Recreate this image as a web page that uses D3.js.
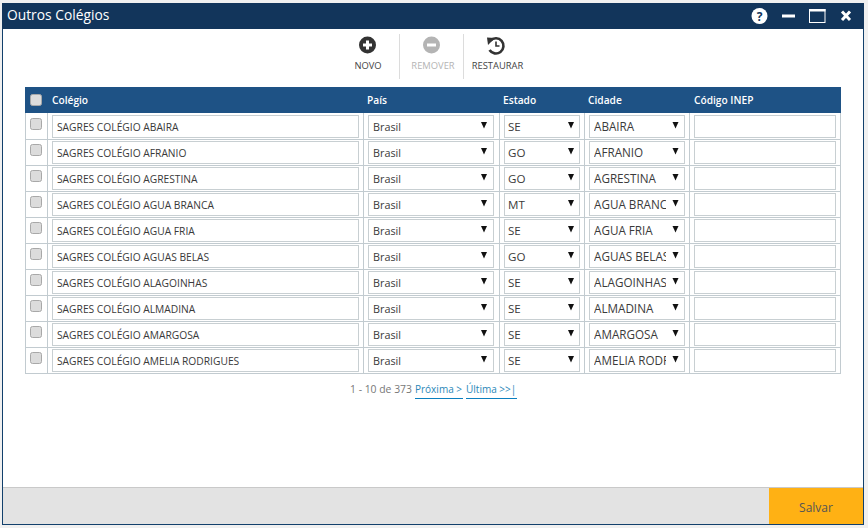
<!DOCTYPE html>
<html><head><meta charset="utf-8">
<script src="https://cdn.jsdelivr.net/npm/d3@7"></script>
<style>html,body{margin:0;padding:0;background:#f0f0f0;overflow:hidden}svg{display:block}text{font-family:"Open Sans",sans-serif}</style>
</head><body><svg id="c" width="868" height="528"></svg>
<script>
const title = "Outros Colégios";
const headers = ["Colégio","País","Estado","Cidade","Código INEP"];
const colleges = ["SAGRES COLÉGIO ABAIRA","SAGRES COLÉGIO AFRANIO","SAGRES COLÉGIO AGRESTINA","SAGRES COLÉGIO AGUA BRANCA","SAGRES COLÉGIO AGUA FRIA","SAGRES COLÉGIO AGUAS BELAS","SAGRES COLÉGIO ALAGOINHAS","SAGRES COLÉGIO ALMADINA","SAGRES COLÉGIO AMARGOSA","SAGRES COLÉGIO AMELIA RODRIGUES"];
const countries = ["Brasil","Brasil","Brasil","Brasil","Brasil","Brasil","Brasil","Brasil","Brasil","Brasil"];
const states = ["SE","GO","GO","MT","SE","GO","SE","SE","SE","SE"];
const cities = ["ABAIRA","AFRANIO","AGRESTINA","AGUA BRANCA","AGUA FRIA","AGUAS BELAS","ALAGOINHAS","ALMADINA","AMARGOSA","AMELIA RODRIGUES"];
const tools = ["NOVO","REMOVER","RESTAURAR"];
const pager = "1 - 10 de 373";
const links = ["Próxima >","Última >>|"];
const save = "Salvar";

const svg = d3.select("#c");
const rect=(x,y,w,h,f,s)=>svg.append("rect").attr("x",x).attr("y",y).attr("width",w).attr("height",h).attr("fill",f).attr("stroke",s||"none");
const text=(x,y,t,size,fill,anchor)=>svg.append("text").attr("x",x).attr("y",y).attr("font-size",size).attr("fill",fill).attr("text-anchor",anchor||"start").text(t);

// window
rect(0,0,868,528,"#f0f0f0");
rect(2,3,862,522,"#ffffff");
svg.append("rect").attr("x",2.5).attr("y",3.5).attr("width",861).attr("height",521).attr("fill","none").attr("stroke","#12406c");
rect(2,3,862,26,"#12355b");
text(7,20,title,13.8,"#fff");

// window controls
svg.append("circle").attr("cx",759.5).attr("cy",16).attr("r",8).attr("fill","#fff");
text(759.5,20.5,"?",12,"#12355b","middle").attr("font-weight",700);
rect(782,14.5,13,3,"#fff");
svg.append("rect").attr("x",809.5).attr("y",9.5).attr("width",15.5).attr("height",13).attr("fill","none").attr("stroke","#fff");
rect(809,9,16.5,2.5,"#fff");
svg.append("path").attr("d","M842 11.5L850 20M850 11.5L842 20").attr("stroke","#fff").attr("stroke-width",3).attr("fill","none");

// toolbar
const toolX = d3.scaleOrdinal().domain(tools).range([368,433,497.5]);
[399.5,463.5].forEach(x=>svg.append("line").attr("x1",x).attr("x2",x).attr("y1",34).attr("y2",79).attr("stroke","#dcdcdc"));
tools.forEach((t,i)=>text(toolX(t),69,t,9.4,i===1?"#b4b4b4":"#444","middle"));
svg.append("circle").attr("cx",367.5).attr("cy",45).attr("r",8.5).attr("fill","#333");
svg.append("path").attr("d","M367.5 40.5V49.5M363 45H372").attr("stroke","#fff").attr("stroke-width",3);
svg.append("circle").attr("cx",431.5).attr("cy",45).attr("r",8.5).attr("fill","#b4b4b4");
svg.append("path").attr("d","M427 45H436").attr("stroke","#fff").attr("stroke-width",3);
svg.append("path").attr("d","M490.5 40.5A7.6 7.6 0 1 1 489.5 50").attr("fill","none").attr("stroke","#333").attr("stroke-width",2.6);
svg.append("path").attr("d","M487 37.5L495 38L488 45Z").attr("fill","#333");
svg.append("path").attr("d","M496 41.5V46H499.5").attr("fill","none").attr("stroke","#333").attr("stroke-width",1.6);

// table
const y = d3.scaleBand().domain(colleges).range([113,373]);
const colEdges = [25.5,47.5,363.5,499.5,584.5,689.5,840.5];
const line = "#c2cbd0", inputLine = "#c8cfd2";
rect(25,87,816,26,"#1e5285");
const headX=[52,367,503,588,694];
headers.forEach((h,i)=>text(headX[i],104,h,10.2,"#fff").attr("font-weight",600));
function checkbox(cy){
  svg.append("rect").attr("x",30.5).attr("y",cy-5.5).attr("width",11).attr("height",11).attr("rx",2).attr("fill","#dcdcdc").attr("stroke","#a8a8a8");
}
checkbox(100);
colEdges.forEach(x=>svg.append("line").attr("x1",x).attr("x2",x).attr("y1",113).attr("y2",373.5).attr("stroke",line));
const defs = svg.append("defs");
defs.append("clipPath").attr("id","cityclip").append("rect").attr("x",594).attr("y",100).attr("width",72).attr("height",280);
colleges.forEach((c,i)=>{
  const top=y(c), b=top+y.bandwidth();
  svg.append("line").attr("x1",25).attr("x2",841).attr("y1",b+.5).attr("y2",b+.5).attr("stroke",line);
  checkbox(top+11);
  const tb=top+18;
  [[52.5,306],[368.5,125],[504.5,75],[589.5,95],[694.5,141]].forEach(([x,w])=>
    svg.append("rect").attr("x",x).attr("y",top+2.5).attr("width",w).attr("height",22).attr("fill","#fff").attr("stroke",inputLine));
  text(57,tb,c,10.25,"#3a3a3a");
  text(373,tb,countries[i],10.8,"#3a3a3a");
  text(508,tb,states[i],11.6,"#3a3a3a");
  text(594,tb,cities[i],11.7,"#3a3a3a").attr("clip-path","url(#cityclip)");
  [484,571,675.5].forEach(x=>svg.append("path").attr("d",d3.line()([[x-3,top+9],[x+3,top+9],[x,top+15.5]])+"Z").attr("fill","#111"));
});

// pager
text(350,393,pager,10.4,"#777");
text(415,393,links[0],10,"#2a87b8");
text(466,393,links[1],10,"#2a87b8");
rect(415,398,48,1,"#0b7fbf");
rect(466,398,51,1,"#0b7fbf");

// footer
rect(3,487,860,37,"#e3e3e3");
rect(3,487,860,1,"#c9c9c9");
rect(769,488,94,36,"#ffb114");
text(816,512,save,12,"#555","middle");
</script></body></html>
